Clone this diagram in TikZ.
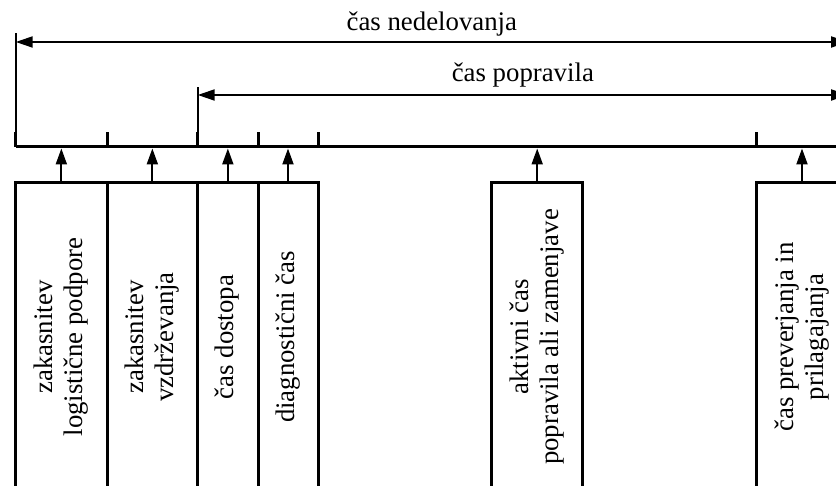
\documentclass[tikz,border=0pt]{standalone}
\usepackage{fontspec}
\setmainfont{Liberation Serif}
\usetikzlibrary{arrows.meta,positioning}
\newcommand{\labelfont}{\fontsize{26.8}{30}\selectfont}
\tikzset{
  timebox/.style={rectangle,draw=black,line width=3pt,outer sep=0pt,
                  inner sep=0pt,minimum height=308pt,font=\labelfont},
  axisline/.style={line width=3pt},
  tickline/.style={line width=3pt},
  guideline/.style={line width=2pt},
  uparr/.style={-{Triangle[length=16pt,width=11pt]},line width=2pt},
  spanarr/.style={{Triangle[length=17pt,width=11pt]}-{Triangle[length=17pt,width=11pt]},
                  line width=2pt},
  spanlabel/.style={font=\labelfont,anchor=base,inner sep=0pt}
}
\newcommand{\vlabel}[1]{\rotatebox{90}{\labelfont
    \begin{tabular}{@{}c@{}}#1\end{tabular}}}

\begin{document}
\begin{tikzpicture}[x=1pt,y=1pt]
  \useasboundingbox (0,0) rectangle (836,486);
  \clip (0,0) rectangle (836,486);

  % Time axis
  \coordinate (axL) at (15.7,339);
  \coordinate (axR) at (848,339);
  \coordinate (axB) at (15.7,337.5);
  \coordinate (downTop) at (0,444);
  \coordinate (repTop) at (0,391);
  \draw[axisline] (axL) -- (axR);

  % Component boxes
  \node[timebox,minimum width=91.3pt,anchor=north west] (logdel) at (15.7,303)
      {\vlabel{zakasnitev\\logistične podpore}};
  \node[timebox,minimum width=90.7pt,right=0pt of logdel] (maintdel)
      {\vlabel{zakasnitev\\vzdrževanja}};
  \node[timebox,minimum width=60.3pt,right=0pt of maintdel] (access)
      {\vlabel{čas dostopa}};
  \node[timebox,minimum width=60pt,right=0pt of access] (diag)
      {\vlabel{diagnostični čas}};
  \node[timebox,minimum width=91pt,right=173.7pt of diag] (active)
      {\vlabel{aktivni čas\\popravila ali zamenjave}};
  \node[timebox,minimum width=92pt,right=173.3pt of active] (check)
      {\vlabel{čas preverjanja in\\prilagajanja}};

  % Ticks on the axis
  \foreach \n in {logdel.north west,maintdel.north west,access.north west,
                  diag.north west,diag.north east,check.north west}
    \draw[tickline] (\n |- axL) -- ++(0,15);

  % Arrows up to the axis
  \foreach \n in {logdel,maintdel,access,diag,active,check}
    \draw[uparr] (\n.north) -- (\n.north |- axB);

  % Downtime span
  \draw[guideline] (axL) -- ++(0,114);
  \draw[spanarr] (axL |- downTop) -- (axR |- downTop)
      node[spanlabel,midway,yshift=11pt] {čas nedelovanja};

  % Repair time span
  \draw[guideline] (access.north west |- axL) -- ++(0,60);
  \draw[spanarr] (access.north west |- repTop) -- (axR |- repTop)
      node[spanlabel,midway,yshift=13pt] {čas popravila};

\end{tikzpicture}
\end{document}
